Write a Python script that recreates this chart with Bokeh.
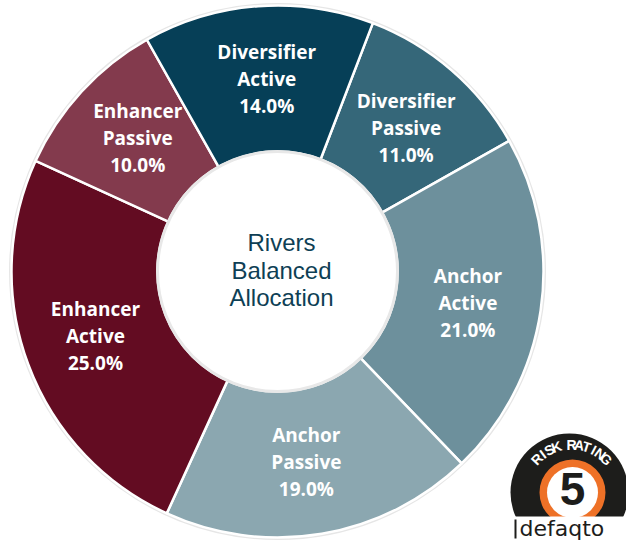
import numpy as np
from bokeh.plotting import figure
from bokeh.models import Range1d, ColumnDataSource
from bokeh.core.properties import value
from bokeh.embed import file_html
from bokeh.resources import INLINE

# ---- data ----
names_line1 = ["Diversifier", "Anchor", "Anchor", "Enhancer", "Enhancer", "Diversifier"]
names_line2 = ["Passive", "Active", "Passive", "Active", "Passive", "Active"]
shares = [11.0, 21.0, 19.0, 25.0, 10.0, 14.0]
colors = ["#356779", "#6d909c", "#8ba7b0", "#630c22", "#833a4d", "#063f57"]
center_title = ["Rivers", "Balanced", "Allocation"]
badge_title = "RISK RATING"
badge_value = "5"
brand = "defaqto"

# ---- geometry (page pixels; y_data = 542 - y_page) ----
W, H = 626, 542
CX, CY = 277, H - 271
R_OUT, R_IN, R_LAB = 266, 120, 193
START = 21.0  # degrees clockwise from 12 o'clock
LS = 27       # label line spacing (px)

frac = np.array(shares) / sum(shares)
cum = np.concatenate([[0.0], np.cumsum(frac)])
theta0 = START + 360 * cum[:-1]
theta1 = START + 360 * cum[1:]
mid = (theta0 + theta1) / 2 + 1.0
lx = CX + R_LAB * np.sin(np.deg2rad(mid))
ly = CY + R_LAB * np.cos(np.deg2rad(mid))

src = ColumnDataSource(dict(
    x=[CX] * len(shares), y=[CY] * len(shares),
    start=np.deg2rad(90 - theta0), end=np.deg2rad(90 - theta1),
    color=colors, lx=lx,
    ly1=ly + LS, ly2=ly, ly3=ly - LS,
    t1=names_line1, t2=names_line2, t3=[f"{s:.1f}%" for s in shares],
))

p = figure(width=W, height=H, output_backend="svg", toolbar_location=None,
           x_range=Range1d(0, W), y_range=Range1d(0, H),
           min_border=0, outline_line_color=None, background_fill_color="white",
           border_fill_color="white")
p.axis.visible = False
p.grid.visible = False

# donut
p.circle(x=CX, y=CY, radius=R_OUT + 1, fill_color=None, line_color="#e6e6e6", line_width=3)
p.annular_wedge(x="x", y="y", inner_radius=R_IN, outer_radius=R_OUT,
                start_angle="start", end_angle="end", direction="clock",
                fill_color="color", line_color="white", line_width=2.5, source=src)
p.circle(x=CX, y=CY, radius=R_IN, fill_color="white", line_color="#e8e8e8", line_width=3)

for ycol, tcol in (("ly1", "t1"), ("ly2", "t2"), ("ly3", "t3")):
    p.text(x="lx", y=ycol, text=tcol, source=src, text_color="white",
           text_font=value("Open Sans"), text_font_style="bold", text_font_size="19px",
           text_align="center", text_baseline="middle")

for i, t in enumerate(center_title):
    p.text(x=[281], y=[H - 242 - 27.5 * i], text=[t], text_color="#0e3f55",
           text_font=value("Liberation Sans"), text_font_size="24px",
           text_align="center", text_baseline="middle")

# ---- badge ----
BX, BY = 571, H - 492
p.circle(x=BX - 2, y=BY, radius=59, fill_color="#1d1d1b", line_color=None)
p.circle(x=BX + 1, y=BY, radius=33, fill_color="#ee7127", line_color=None)
p.circle(x=BX + 1, y=BY, radius=25.5, fill_color="white", line_color=None)
p.text(x=[BX + 1], y=[H - 488], text=[badge_value], text_color="#1d1d1b",
       text_font=value("Liberation Sans"), text_font_style="bold", text_font_size="46px",
       text_align="center", text_baseline="middle")

letters = list(badge_title)
ang = np.linspace(-46, 46, len(letters))
p.text(x=BX + 48 * np.sin(np.deg2rad(ang)), y=BY + 48 * np.cos(np.deg2rad(ang)),
       text=letters, angle=np.deg2rad(-ang), text_color="white",
       text_font=value("Liberation Sans"), text_font_style="bold", text_font_size="14px",
       text_align="center", text_baseline="middle")

# brand box
p.quad(left=510, right=W, bottom=0, top=H - 516, fill_color="white", line_color=None)
p.segment(x0=515, y0=4, x1=515, y1=H - 519, line_color="#1d1d1b", line_width=2)
p.text(x=[519], y=[H - 528], text=[brand], text_color="#1d1d1b",
       text_font=value("DejaVu Sans"), text_font_size="22px",
       text_align="left", text_baseline="middle")

open("out.html", "w").write(file_html(p, INLINE))
